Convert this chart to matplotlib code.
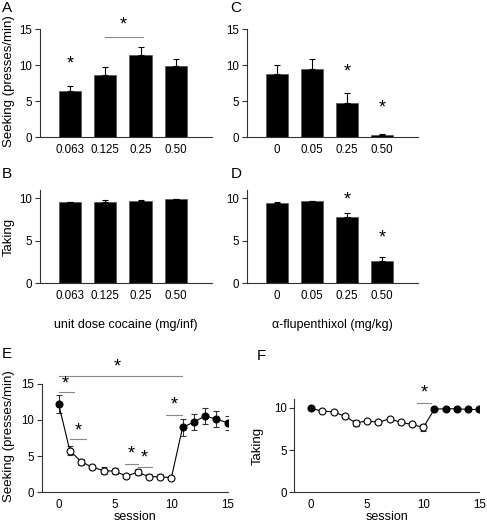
import numpy as np
import matplotlib.pyplot as plt

plt.rcParams['font.family'] = ['Liberation Sans', 'DejaVu Sans']
plt.rcParams['font.size'] = 8.3

# bar panels
dose_labels = ['0.063', '0.125', '0.25', '0.50']
flu_labels = ['0', '0.05', '0.25', '0.50']

seek_dose = [6.43, 8.57, 11.35, 9.9]
seek_dose_err = [0.67, 1.2, 1.1, 1.0]
take_dose = [9.53, 9.57, 9.76, 9.92]
take_dose_err = [0.07, 0.23, 0.09, 0.06]

seek_flu = [8.7, 9.44, 4.68, 0.32]
seek_flu_err = [1.26, 1.36, 1.39, 0.08]
take_flu = [9.41, 9.65, 7.76, 2.66]
take_flu_err = [0.16, 0.11, 0.55, 0.47]

# session panels
sessions = np.arange(16)
seek_sess = [12.2, 5.75, 4.23, 3.45, 3.0, 2.9, 2.25, 2.76, 2.16, 2.16, 2.0,
             8.97, 9.7, 10.54, 10.1, 9.6]
seek_sess_err = [1.2, 0.6, 0.4, 0.3, 0.5, 0.4, 0.3, 0.4, 0.3, 0.3, 0.3,
                 1.15, 1.1, 1.1, 1.1, 1.0]
take_sess = [9.92, 9.6, 9.53, 9.0, 8.2, 8.46, 8.27, 8.7, 8.27, 8.03, 7.68,
             9.84, 9.88, 9.88, 9.8, 9.8]
take_sess_err = [0.1, 0.1, 0.1, 0.15, 0.4, 0.2, 0.2, 0.15, 0.2, 0.2, 0.4,
                 0.1, 0.1, 0.1, 0.1, 0.1]
extinction = np.arange(1, 11)

fig = plt.figure(figsize=(4.87, 5.25), dpi=100)

axA = fig.add_axes([0.0821, 0.739, 0.353, 0.2057])
axC = fig.add_axes([0.507, 0.739, 0.351, 0.2057])
axB = fig.add_axes([0.0821, 0.4604, 0.353, 0.1777])
axD = fig.add_axes([0.507, 0.4604, 0.351, 0.1777])
axE = fig.add_axes([0.0856, 0.0623, 0.382, 0.2069])
axF = fig.add_axes([0.6043, 0.0623, 0.38, 0.1771])

sig_col = '#888888'


def style(ax):
    for s in ['top', 'right']:
        ax.spines[s].set_visible(False)
    for s in ['left', 'bottom']:
        ax.spines[s].set_linewidth(0.8)
        ax.spines[s].set_color('#333333')
    ax.tick_params(axis='y', length=3.5, width=0.8, pad=2, color='#333333')
    ax.tick_params(axis='x', length=0, pad=5)


def bars(ax, vals, errs, labels, ymax, yticks):
    x = np.arange(len(vals))
    ax.bar(x, vals, width=0.63, color='black', edgecolor='#555555', linewidth=0.5)
    ax.errorbar(x, vals, yerr=[np.zeros(len(errs)), errs], fmt='none',
                ecolor='black', elinewidth=0.8, capsize=2.2, capthick=0.8)
    ax.set_xticks(x)
    ax.set_xticklabels(labels)
    ax.set_xlim(-0.86, 4.03)
    ax.set_ylim(0, ymax)
    ax.set_yticks(yticks)
    style(ax)


bars(axA, seek_dose, seek_dose_err, dose_labels, 15, [0, 5, 10, 15])
bars(axC, seek_flu, seek_flu_err, flu_labels, 15, [0, 5, 10, 15])
bars(axB, take_dose, take_dose_err, dose_labels, 11, [0, 5, 10])
bars(axD, take_flu, take_flu_err, flu_labels, 11, [0, 5, 10])

star_kw = dict(ha='center', va='center', fontsize=13, clip_on=False)

# A stars
axA.text(0, 10.1, '*', **star_kw)
axA.plot([1.0, 2.08], [13.9, 13.9], color=sig_col, lw=0.8, clip_on=False)
axA.text(1.5, 15.5, '*', **star_kw)
# C stars
axC.text(2, 9.1, '*', **star_kw)
axC.text(3, 4.0, '*', **star_kw)
# D stars
axD.text(2, 9.8, '*', **star_kw)
axD.text(3, 5.3, '*', **star_kw)

axB.set_xlabel('unit dose cocaine (mg/inf)', fontsize=9, labelpad=12)
axD.set_xlabel('α-flupenthixol (mg/kg)', fontsize=9, labelpad=12)


def session_plot(ax, vals, errs, ymax, yticks):
    vals = np.asarray(vals)
    ax.plot(sessions, vals, color='black', lw=0.8, zorder=2)
    ax.errorbar(sessions, vals, yerr=errs, fmt='none', ecolor='#333333',
                elinewidth=0.8, capsize=2, capthick=0.8, zorder=1)
    is_ext = np.isin(sessions, extinction)
    ax.plot(sessions[~is_ext], vals[~is_ext], 'o', ms=5, mfc='black',
            mec='black', mew=0.8, zorder=3)
    ax.plot(sessions[is_ext], vals[is_ext], 'o', ms=5, mfc='white',
            mec='black', mew=0.8, zorder=3)
    ax.set_xlim(-1.5, 15)
    ax.set_ylim(0, ymax)
    ax.set_xticks([0, 5, 10, 15])
    ax.set_yticks(yticks)
    ax.set_xlabel('session', fontsize=9, labelpad=0)
    style(ax)


session_plot(axE, seek_sess, seek_sess_err, 15, [0, 5, 10, 15])
session_plot(axF, take_sess, take_sess_err, 11, [0, 5, 10])

# y labels placed by pixel centre
for lbl, px, py in [('Seeking (presses/min)', 9, 81), ('Taking', 9, 237),
                    ('Seeking (presses/min)', 9, 436), ('Taking', 258, 446)]:
    fig.text(px / 487, 1 - py / 525, lbl, fontsize=9.5, rotation=90,
             ha='center', va='center')

# E significance lines: (x0, x1, line y, star x, star y)
e_sig = [(0, 10.93, 16.05, 5.2, 17.3),
         (0, 1.33, 13.8, 0.62, 14.9),
         (1.04, 2.47, 7.36, 1.73, 8.5),
         (5.85, 7.03, 3.9, 6.47, 5.3),
         (7.03, 8.25, 3.5, 7.63, 4.8),
         (9.56, 10.93, 10.67, 10.24, 12.0)]
for x0, x1, ly, sx, sy in e_sig:
    axE.plot([x0, x1], [ly, ly], color=sig_col, lw=0.8, clip_on=False)
    axE.text(sx, sy, '*', **star_kw)

axF.plot([9.41, 10.73], [10.58, 10.58], color=sig_col, lw=0.8, clip_on=False)
axF.text(10.1, 11.7, '*', **star_kw)

# panel letters
for lbl, px, py in [('A', 7, 8), ('C', 236, 8), ('B', 7, 174), ('D', 236, 174),
                    ('E', 7, 354), ('F', 261, 356)]:
    fig.text(px / 487, 1 - py / 525, lbl, fontsize=11, ha='center', va='center')

plt.savefig('out.png', dpi=100)
